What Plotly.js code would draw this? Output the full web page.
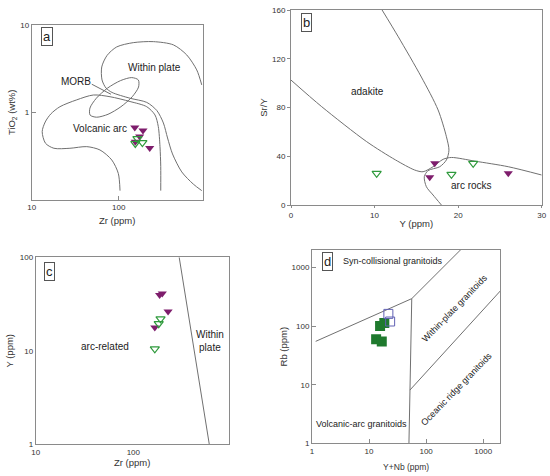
<!DOCTYPE html>
<html>
<head>
<meta charset="utf-8">
<script src="https://cdn.plot.ly/plotly-3.0.1.min.js"></script>
<style>html,body{margin:0;padding:0;background:#fff;}#chart{width:550px;height:476px;}</style>
</head>
<body>
<div id="chart"></div>
<script>
// ---------- Panel a: Zr vs TiO2 ----------
const aPurpleZr = [153, 190, 174, 155, 227];
const aPurpleTi = [0.67, 0.62, 0.53, 0.46, 0.39];
const aGreenZr = [164, 187, 155];
const aGreenTi = [0.50, 0.45, 0.44];
const aWithinZr = [900, 788, 605, 425, 250, 147, 94.8, 73.4, 63.8, 64.3, 71.4, 83.8, 135, 210, 274, 326, 364, 415, 530, 719, 900];
const aWithinTi = [2.06, 3.06, 4.54, 5.92, 6.45, 6.28, 5.61, 4.48, 3.31, 2.35, 1.90, 1.69, 1.45, 1.30, 1.05, 0.756, 0.509, 0.334, 0.208, 0.151, 0.127];
const aArcZr = [103.5, 98.9, 83.2, 60.9, 42.9, 27.5, 18.0, 14.4, 13.2, 14.3, 16.6, 21.1, 32.9, 51.1, 79.4, 135, 210, 261, 285, 298, 304, 304];
const aArcTi = [0.127, 0.200, 0.285, 0.371, 0.405, 0.388, 0.388, 0.443, 0.601, 0.776, 0.96, 1.16, 1.39, 1.58, 1.51, 1.33, 1.16, 0.934, 0.686, 0.405, 0.239, 0.127];
const aMorbZr = [168, 169, 143, 106, 75.3, 55.8, 46.9, 46.7, 55.3, 74.1, 105, 141, 168];
const aMorbTi = [2.35, 1.95, 1.51, 1.16, 0.95, 0.88, 0.93, 1.12, 1.45, 1.89, 2.31, 2.50, 2.35];
const aLeaderZr = [49, 81.5];
const aLeaderTi = [2.10, 1.61];
const aXTicks = [10, 100, 1000];
const aYTicks = [1, 10];

// ---------- Panel b: Y vs Sr/Y ----------
const bPurpleY = [17.2, 16.6, 26.0];
const bPurpleSrY = [34.2, 22.7, 26.0];
const bGreenY = [10.25, 19.2, 21.8];
const bGreenSrY = [26.0, 25.2, 34.2];
const bCurve1Y = [10.9, 12.84, 15.6, 17.6, 18.6, 18.9, 18.6, 17.8, 16.4, 15.95, 16.2, 17.0, 18.0];
const bCurve1SrY = [160, 138, 105, 78, 56, 45, 37, 31.4, 28.2, 23.2, 15, 8.2, 0];
const bCurve2Y = [0, 3.67, 9.05, 12.5, 14.8, 15.8, 17.0, 18.2, 19.2, 22, 26, 30];
const bCurve2SrY = [102.5, 80.7, 52, 37, 28.7, 27.3, 31.4, 37.5, 39, 36, 31.4, 24.6];
const bXTicks = [0, 10, 20, 30];
const bYTicks = [0, 40, 80, 120, 160];

// ---------- Panel c: Zr vs Y ----------
const cPurpleZr = [186, 198, 227, 166];
const cPurpleY = [39.4, 41, 26.4, 17.7];
const cGreenZr = [190, 182, 166];
const cGreenY = [22, 19.5, 10.5];
const cLineZr = [295, 600];
const cLineY = [100, 1];
const cXTicks = [10, 100, 1000];
const cYTicks = [1, 10, 100];

// ---------- Panel d: Y+Nb vs Rb ----------
const dGreenYNb = [15.6, 18.5, 13.3, 16.7];
const dGreenRb = [101, 113, 60, 54.6];
const dBlueYNb = [21.8, 23.4];
const dBlueRb = [162, 120];
const dVagSynX = [1.16, 56];
const dVagSynY = [55, 295];
const dVagWpgX = [50, 56];
const dVagWpgY = [1, 295];
const dWpgSynX = [56, 400];
const dWpgSynY = [295, 2000];
const dWpgOrgX = [52, 2000];
const dWpgOrgY = [8.1, 400];
const dTicks = [1, 10, 100, 1000];

const W = 550, H = 476;
const FONT = 'Liberation Sans, Arial, sans-serif';
const LINE = '#707070';
const PURPLE = '#7e1d6c';
const GREEN = '#2f9a3c';
const DKGREEN = '#1f7a2e';
const BLUE = '#6262b4';

function dom(a, b, size) { return [a / size, b / size]; }
function ydom(top, bottom) { return [1 - bottom / H, 1 - top / H]; }
function px(x) { return x / W; }
function py(y) { return 1 - y / H; }

function line(x, y, xa, ya, shape) {
  return {x: x, y: y, xaxis: xa, yaxis: ya, mode: 'lines', type: 'scatter',
    line: {color: LINE, width: 1, shape: shape || 'linear', smoothing: 0.8}, hoverinfo: 'skip'};
}
function pts(x, y, xa, ya, symbol, color, size, lw) {
  return {x: x, y: y, xaxis: xa, yaxis: ya, mode: 'markers', type: 'scatter',
    marker: {symbol: symbol, size: size, color: color, line: {color: color, width: lw}}};
}

const traces = [
  line(aWithinZr, aWithinTi, 'x', 'y', 'spline'),
  line(aArcZr, aArcTi, 'x', 'y', 'spline'),
  line(aMorbZr, aMorbTi, 'x', 'y', 'spline'),
  line(aLeaderZr, aLeaderTi, 'x', 'y'),
  pts(aPurpleZr, aPurpleTi, 'x', 'y', 'triangle-down', PURPLE, 8, 0),
  pts(aGreenZr, aGreenTi, 'x', 'y', 'triangle-down-open', GREEN, 8, 1.2),

  line(bCurve1Y, bCurve1SrY, 'x2', 'y2', 'spline'),
  line(bCurve2Y, bCurve2SrY, 'x2', 'y2', 'spline'),
  pts(bPurpleY, bPurpleSrY, 'x2', 'y2', 'triangle-down', PURPLE, 8, 0),
  pts(bGreenY, bGreenSrY, 'x2', 'y2', 'triangle-down-open', GREEN, 8, 1.2),

  line(cLineZr, cLineY, 'x3', 'y3'),
  pts(cPurpleZr, cPurpleY, 'x3', 'y3', 'triangle-down', PURPLE, 8, 0),
  pts(cGreenZr, cGreenY, 'x3', 'y3', 'triangle-down-open', GREEN, 8, 1.2),

  line(dVagSynX, dVagSynY, 'x4', 'y4'),
  line(dVagWpgX, dVagWpgY, 'x4', 'y4'),
  line(dWpgSynX, dWpgSynY, 'x4', 'y4'),
  line(dWpgOrgX, dWpgOrgY, 'x4', 'y4'),
  pts(dGreenYNb, dGreenRb, 'x4', 'y4', 'square', DKGREEN, 10, 0),
  pts(dBlueYNb, dBlueRb, 'x4', 'y4', 'square-open', BLUE, 9, 1)
];

function axis(extra) {
  return Object.assign({
    showline: true, mirror: true, linecolor: '#8a8a8a', linewidth: 1,
    showgrid: false, zeroline: false, ticks: 'inside', ticklen: 4, tickcolor: '#8a8a8a',
    tickfont: {family: FONT, size: 8, color: '#333'}, fixedrange: true
  }, extra);
}
function ttl(text, standoff, size) {
  return {text: text, font: {family: FONT, size: size || 9.5, color: '#333'}, standoff: standoff};
}

const layout = {
  width: W, height: H, margin: {l: 0, r: 0, t: 0, b: 0},
  paper_bgcolor: '#fff', plot_bgcolor: '#fff', showlegend: false,
  xaxis: axis({domain: dom(31.7, 202.7, W), type: 'log', range: [1, 2.965], anchor: 'y',
    tickvals: aXTicks, ticktext: aXTicks.map(String), title: ttl('Zr (ppm)', 6)}),
  yaxis: axis({domain: ydom(25, 199.7), type: 'log', range: [-1, 1], anchor: 'x',
    tickvals: aYTicks, ticktext: aYTicks.map(String), title: ttl('TiO<sub>2</sub> (wt%)', 2)}),
  xaxis2: axis({domain: dom(291, 541.7, W), range: [0, 30], anchor: 'y2', ticks: 'outside', ticklen: 2,
    tickvals: bXTicks, ticktext: bXTicks.map(String), title: ttl('Y (ppm)', 1)}),
  yaxis2: axis({domain: ydom(10, 205), range: [0, 160], anchor: 'x2', ticks: 'outside', ticklen: 3,
    tickvals: bYTicks, ticktext: bYTicks.map(String), title: ttl('Sr/Y', 2)}),
  xaxis3: axis({domain: dom(35.7, 228.7, W), type: 'log', range: [1, 2.977], anchor: 'y3', ticks: '',
    tickvals: cXTicks, ticktext: cXTicks.map(String), title: ttl('Zr (ppm)', 3)}),
  yaxis3: axis({domain: ydom(257.3, 444.3), type: 'log', range: [0, 2], anchor: 'x3', ticks: '',
    tickvals: cYTicks, ticktext: cYTicks.map(String), title: ttl('Y (ppm)', 4)}),
  xaxis4: axis({domain: dom(312, 500.3, W), type: 'log', range: [0, 3.3], anchor: 'y4',
    tickvals: dTicks, ticktext: dTicks.map(String), title: ttl('Y+Nb (ppm)', 9, 8.5)}),
  yaxis4: axis({domain: ydom(250, 443.3), type: 'log', range: [0, 3.3], anchor: 'x4',
    tickvals: dTicks, ticktext: dTicks.map(String), title: ttl('Rb (ppm)', 2)}),
  annotations: []
};

function note(text, x, y, size, extra) {
  return Object.assign({text: text, xref: 'paper', yref: 'paper', x: px(x), y: py(y),
    xanchor: 'center', yanchor: 'middle', showarrow: false,
    font: {family: FONT, size: size, color: '#222'}}, extra || {});
}
function letter(t, x, y) {
  return note(t, x, y, 13, {bordercolor: '#555', borderwidth: 1, borderpad: 1, bgcolor: '#fff',
    font: {family: FONT, size: 13, color: '#222'}});
}
layout.annotations.push(
  letter('a', 47, 37), letter('b', 306.5, 22.5), letter('c', 49, 271.5), letter('d', 327.7, 261),
  note('Within plate', 154, 68, 10),
  note('MORB', 76, 81, 10),
  note('Volcanic arc', 100, 128.5, 10),
  note('adakite', 367.7, 91.7, 10),
  note('arc rocks', 471.7, 185.7, 10),
  note('arc-related', 105, 346, 10),
  note('Within<br>plate', 210, 341, 10),
  note('Syn-collisional granitoids', 393.3, 260.7, 9),
  note('Within-plate granitoids', 455, 308.3, 9, {textangle: -46}),
  note('Oceanic ridge granitoids', 456.7, 389.3, 9, {textangle: -46}),
  note('Volcanic-arc granitoids', 361, 424, 9)
);

Plotly.newPlot('chart', traces, layout, {staticPlot: true, displayModeBar: false});
</script>
</body>
</html>
